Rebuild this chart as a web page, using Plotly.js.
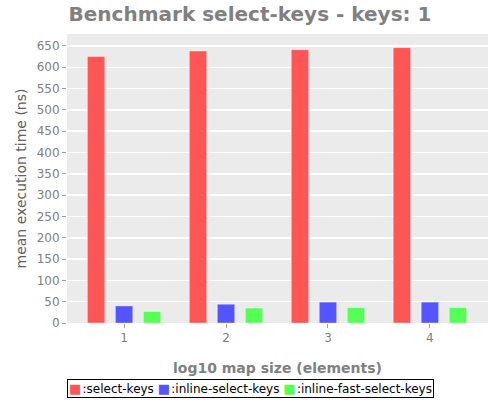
<!DOCTYPE html>
<html>
<head>
<meta charset="utf-8">
<script src="https://cdn.plot.ly/plotly-3.0.1.min.js"></script>
<style>html,body{margin:0;padding:0;background:#fff;}#chart{width:500px;height:400px;}</style>
</head>
<body>
<div id="chart"></div>
<script>
const sizes = [1, 2, 3, 4];
const seriesNames = [":select-keys", ":inline-select-keys", ":inline-fast-select-keys"];
const selectKeys = [625, 638, 641, 646];
const inlineSelectKeys = [40, 44, 49, 49];
const inlineFastSelectKeys = [27, 35, 36, 36];
const colors = ["#ff5555", "#5555ff", "#55ff55"];

const values = [selectKeys, inlineSelectKeys, inlineFastSelectKeys];
const traces = values.map((v, i) => ({
  type: "bar",
  x: sizes,
  y: v,
  name: seriesNames[i],
  marker: {color: colors[i], line: {color: "rgba(255,255,255,0.35)", width: 1}}
}));

const legendText = seriesNames
  .map((n, i) => `<span style="color:${colors[i]};font-size:13px">■</span><span style="font-size:4px"> </span>${n}`)
  .join(" ");

const layout = {
  width: 500, height: 400,
  margin: {l: 67, r: 12, t: 34, b: 77},
  paper_bgcolor: "#ffffff",
  plot_bgcolor: "#ebebeb",
  font: {family: "DejaVu Sans", color: "#808080", size: 12},
  title: {text: "<b>Benchmark select-keys - keys: 1</b>", font: {family: "DejaVu Sans", size: 20, color: "#808080"}, x: 0.5, xanchor: "center", y: 0.965, yanchor: "middle"},
  barmode: "group",
  bargap: 0.176,
  bargroupgap: 0.38,
  xaxis: {
    range: [0.44, 4.57],
    tickvals: sizes,
    ticktext: sizes.map(String),
    showgrid: false,
    zeroline: false,
    ticks: "outside", ticklen: 4, tickcolor: "#a0a0a0",
    tickfont: {size: 12, color: "#808080"},
    title: {text: "<b>log10 map size (elements)</b>", font: {size: 14, color: "#808080"}, standoff: 18}
  },
  yaxis: {
    range: [0, 678],
    dtick: 50,
    showgrid: true, gridcolor: "#ffffff", gridwidth: 1.5,
    zeroline: false,
    ticks: "outside", ticklen: 4, tickcolor: "#a0a0a0",
    tickfont: {size: 12, color: "#808080"},
    title: {text: "mean execution time (ns)", font: {size: 14, color: "#606060"}, standoff: 6}
  },
  showlegend: false,
  annotations: [{
    text: legendText,
    xref: "paper", yref: "paper",
    x: 0.4347, y: -0.226, xanchor: "center", yanchor: "middle",
    showarrow: false,
    font: {family: "DejaVu Sans", size: 12, color: "#000000"},
    bordercolor: "#000000", borderwidth: 1, borderpad: 1,
    bgcolor: "#ffffff"
  }]
};

Plotly.newPlot("chart", traces, layout, {displayModeBar: false, staticPlot: true});
</script>
</body>
</html>
